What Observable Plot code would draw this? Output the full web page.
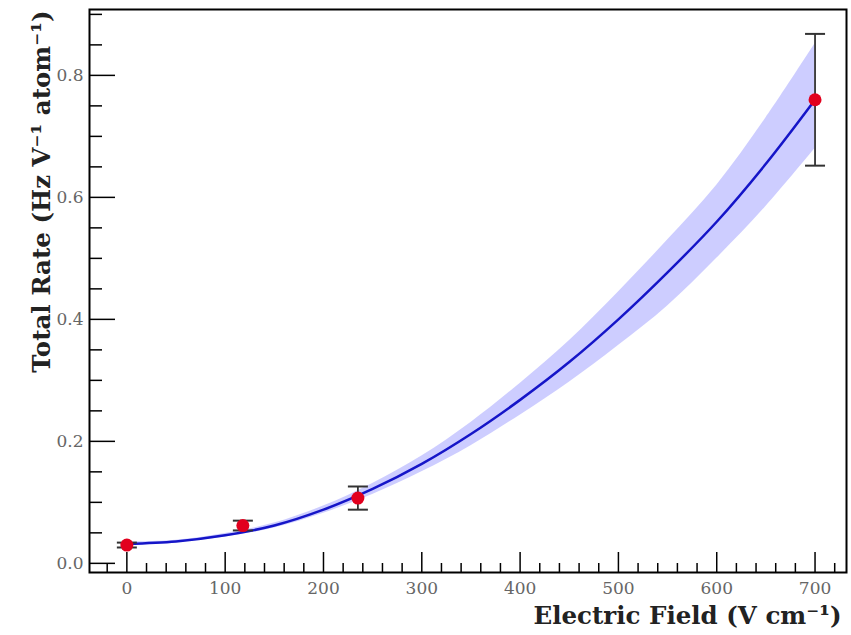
<!DOCTYPE html>
<html><head><meta charset="utf-8">
<script src="https://cdn.jsdelivr.net/npm/d3@7"></script>
<script src="https://cdn.jsdelivr.net/npm/@observablehq/plot@0.6"></script>
<style>body{margin:0;background:#fff}</style>
</head><body><div id="chart"></div>
<script>
// Fit curve and uncertainty band
const fitField = [0, 50, 100, 150, 200, 250, 300, 350, 400, 450, 500, 550, 600, 650, 700];
const fitRate  = [0.032, 0.036, 0.046, 0.062, 0.088, 0.122, 0.163, 0.212, 0.268, 0.330, 0.400, 0.477, 0.560, 0.655, 0.760];
const fitLow   = [0.029, 0.034, 0.043, 0.058, 0.082, 0.113, 0.150, 0.193, 0.243, 0.297, 0.357, 0.422, 0.500, 0.585, 0.680];
const fitHigh  = [0.035, 0.038, 0.049, 0.066, 0.094, 0.131, 0.176, 0.231, 0.295, 0.365, 0.445, 0.530, 0.620, 0.730, 0.852];
// Measurements
const field   = [0, 118, 235, 700];
const rate    = [0.030, 0.062, 0.107, 0.760];
const rateErr = [0.004, 0.008, 0.019, 0.108];
// Ticks
const xMajor = [0, 100, 200, 300, 400, 500, 600, 700];
const xMinor = [-20, 20, 40, 60, 80, 120, 140, 160, 180, 220, 240, 260, 280, 320, 340, 360, 380, 420, 440, 460, 480, 520, 540, 560, 580, 620, 640, 660, 680, 720];
const yMajor = [0.0, 0.2, 0.4, 0.6, 0.8];
const yMinor = [0.05, 0.1, 0.15, 0.25, 0.3, 0.35, 0.45, 0.5, 0.55, 0.65, 0.7, 0.75, 0.85, 0.9];
const xLabel = "Electric Field (V cm⁻¹)";
const yLabel = "Total Rate (Hz V⁻¹ atom⁻¹)";

const fit = fitField.map((x, i) => ({x, y: fitRate[i], lo: fitLow[i], hi: fitHigh[i]}));
const pts = field.map((x, i) => ({x, y: rate[i], e: rateErr[i]}));

const W = 851, H = 635, mL = 89, mR = 5, mT = 9, mB = 63;
const iW = W - mL - mR, iH = H - mT - mB;

const capSymbol = {draw(ctx) { ctx.moveTo(-10, 0); ctx.lineTo(10, 0); }};
const serif = "'DejaVu Serif', 'Liberation Serif', serif";

const chart = Plot.plot({
  width: W, height: H,
  marginLeft: mL, marginRight: mR, marginTop: mT, marginBottom: mB,
  style: {fontFamily: serif, background: "#fff"},
  x: {domain: [-38, 732], label: null},
  y: {domain: [-0.015, 0.908], label: null},
  marks: [
    Plot.areaY(fit, {x: "x", y1: "lo", y2: "hi", fill: "#7070ff", fillOpacity: 0.35, curve: "catmull-rom"}),
    Plot.line(fit, {x: "x", y: "y", stroke: "#1515c8", strokeWidth: 2.5, curve: "catmull-rom"}),
    Plot.ruleX(pts, {x: "x", y1: d => d.y - d.e, y2: d => d.y + d.e, stroke: "#333", strokeWidth: 1.8}),
    Plot.dot(pts, {x: "x", y: d => d.y - d.e, symbol: capSymbol, stroke: "#333", strokeWidth: 2, fill: "none"}),
    Plot.dot(pts, {x: "x", y: d => d.y + d.e, symbol: capSymbol, stroke: "#333", strokeWidth: 2, fill: "none"}),
    Plot.dot(pts, {x: "x", y: "y", r: 6.5, fill: "#e2001e", stroke: "none"}),
    Plot.tickX(xMajor, {x: d => d, insetTop: iH - 20, stroke: "#000", strokeWidth: 1.5}),
    Plot.tickX(xMinor, {x: d => d, insetTop: iH - 9, stroke: "#000", strokeWidth: 1.5}),
    Plot.tickY(yMajor, {y: d => d, insetRight: iW - 26, stroke: "#000", strokeWidth: 1.5}),
    Plot.tickY(yMinor, {y: d => d, insetRight: iW - 13, stroke: "#000", strokeWidth: 1.5}),
    Plot.axisX(xMajor, {tickSize: 0, tickPadding: 9, fontSize: 17, fill: "#666", label: null}),
    Plot.axisY(yMajor, {tickSize: 0, tickPadding: 6, fontSize: 17, fill: "#666", label: null, tickFormat: d3.format(".1f")}),
    Plot.frame({stroke: "#000", strokeWidth: 2}),
    Plot.text([xLabel], {frameAnchor: "bottom-right", textAnchor: "end", dx: -5, dy: 51, fontSize: 24.5, fontWeight: "bold", fill: "#222"}),
    Plot.text([yLabel], {frameAnchor: "top-left", rotate: -90, textAnchor: "end", dx: -57, dy: 1, fontSize: 24.5, fontWeight: "bold", fill: "#222"})
  ]
});
document.getElementById("chart").appendChild(chart);
</script>
</body></html>
